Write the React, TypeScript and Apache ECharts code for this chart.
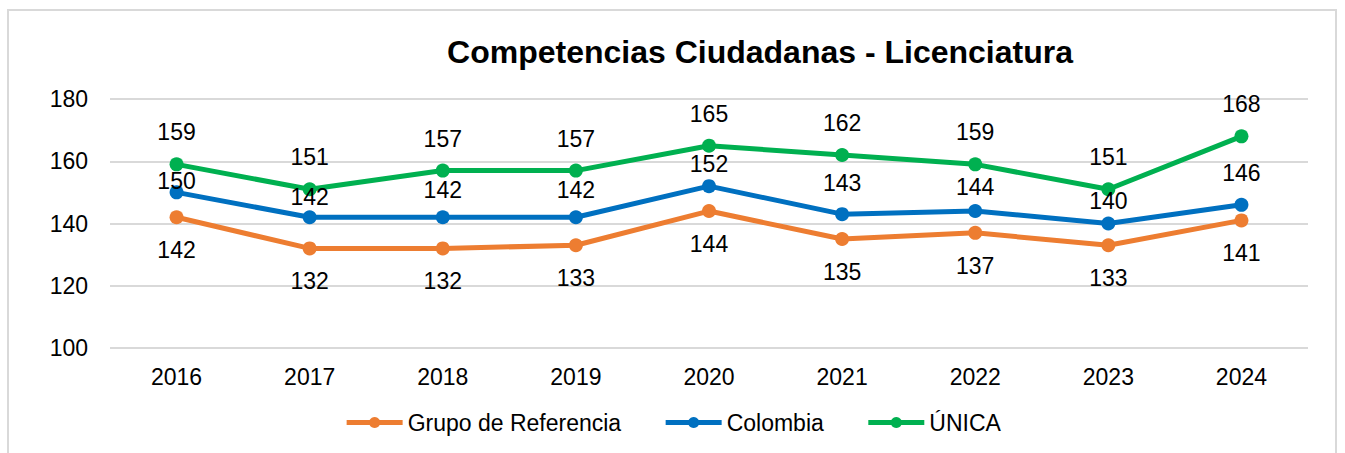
import React, { useEffect, useRef } from "react";
import * as echarts from "echarts";

const years = ["2016", "2017", "2018", "2019", "2020", "2021", "2022", "2023", "2024"];
const grupoReferencia = [142, 132, 132, 133, 144, 135, 137, 133, 141];
const colombia = [150, 142, 142, 142, 152, 143, 144, 140, 146];
const unica = [159, 151, 157, 157, 165, 162, 159, 151, 168];
const yTicks = { min: 100, max: 180, interval: 20 };

// vertical label offsets (px) relative to each point, as placed in the original
const colombiaLabelOffsets = [-11, -20, -27, -27, -22, -31, -24, -23, -32];

const FONT = "'Liberation Sans', Arial, sans-serif";

export default function App() {
  const ref = useRef<HTMLDivElement>(null);
  useEffect(() => {
    if (!ref.current) return;
    const chart = echarts.init(ref.current, null, { renderer: "svg" });
    const labelBase = {
      show: true,
      position: "inside",
      color: "#000",
      fontSize: 23,
      fontFamily: FONT,
    };
    const mk = (name: string, data: number[], color: string, offsets: number[]) => ({
      name,
      type: "line",
      data: data.map((v, i) => ({
        value: v,
        label: { ...labelBase, offset: [0, offsets[i]] },
      })),
      symbol: "circle",
      symbolSize: 14,
      lineStyle: { width: 5, color },
      itemStyle: { color },
      label: labelBase,
      z: 2,
    });
    chart.setOption({
      animation: false,
      backgroundColor: "#fff",
      textStyle: { fontFamily: FONT },
      title: {
        text: "Competencias Ciudadanas - Licenciatura",
        left: 755,
        top: 31,
        textAlign: "center",
        textStyle: { fontFamily: FONT, fontSize: 32, fontWeight: "bold", color: "#000" },
      },
      graphic: [
        {
          type: "rect",
          shape: { x: 8, y: 10, width: 1328, height: 460 },
          style: { fill: "none", stroke: "#d9d9d9", lineWidth: 2 },
          silent: true,
        },
      ],
      grid: { left: 110, right: 37, top: 99, bottom: 105, containLabel: false },
      xAxis: {
        type: "category",
        data: years,
        boundaryGap: true,
        axisLine: { show: false },
        axisTick: { show: false },
        axisLabel: { color: "#000", fontSize: 23, fontFamily: FONT, margin: 17 },
      },
      yAxis: {
        type: "value",
        min: yTicks.min,
        max: yTicks.max,
        interval: yTicks.interval,
        axisLine: { show: false },
        axisTick: { show: false },
        axisLabel: { color: "#000", fontSize: 23, fontFamily: FONT, margin: 22 },
        splitLine: { lineStyle: { color: "#d9d9d9", width: 2 } },
      },
      legend: {
        top: 406,
        left: "center",
        itemWidth: 56,
        itemHeight: 14,
        itemGap: 42,
        lineStyle: { width: 5 },
        textStyle: { color: "#000", fontSize: 23, fontFamily: FONT },
        data: ["Grupo de Referencia", "Colombia", "ÚNICA"],
      },
      series: [
        mk("Grupo de Referencia", grupoReferencia, "#ED7D31", grupoReferencia.map(() => 33)),
        mk("Colombia", colombia, "#0070C0", colombiaLabelOffsets),
        mk("ÚNICA", unica, "#00B050", unica.map(() => -32)),
      ],
    });
    return () => chart.dispose();
  }, []);
  return (
    <div
      ref={ref}
      style={{ position: "fixed", left: 0, top: 0, width: 1345, height: 453 }}
    />
  );
}
